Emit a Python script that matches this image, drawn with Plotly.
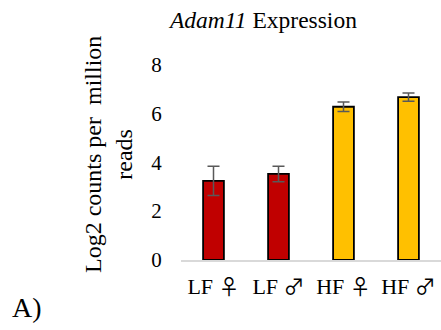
import plotly.graph_objects as go

SYM = "<span style='font-family:Noto Sans CJK JP;font-size:21px'>{}</span>"
categories = ["LF " + SYM.format("♀"), "LF " + SYM.format("♂"),
              "HF " + SYM.format("♀"), "HF " + SYM.format("♂")]
values = [3.24, 3.52, 6.27, 6.66]
errors = [0.60, 0.32, 0.19, 0.17]
colors = ["#C00000", "#C00000", "#FFC000", "#FFC000"]
y_ticks = [0, 2, 4, 6, 8]

W, H = 441, 330
ML, MR, MT, MB = 181, 0, 40, 70
pw = W - ML - MR
ph = H - MT - MB

FONT = "Liberation Serif"

fig = go.Figure(go.Bar(
    x=categories, y=values,
    marker=dict(color=colors, line=dict(color="#000000", width=1.8)),
    width=0.32,
    error_y=dict(type="data", array=errors, visible=True, color="#595959", thickness=1.5, width=6),
))

def px_x(x):
    return (x - ML) / pw

def px_y(y):
    return (H - MB - y) / ph

fig.update_layout(
    width=W, height=H,
    margin=dict(l=ML, r=MR, t=MT, b=MB),
    paper_bgcolor="white", plot_bgcolor="white",
    font=dict(family=FONT, size=22, color="#000000"),
    showlegend=False,
    xaxis=dict(showline=True, linecolor="#d9d9d9", linewidth=2, showgrid=False,
               ticks="outside", ticklen=6, tickcolor="rgba(0,0,0,0)",
               tickfont=dict(family=FONT, size=22, color="#000000"), zeroline=False),
    yaxis=dict(range=[0, 9], tickvals=y_ticks, showgrid=False, showline=False, zeroline=False,
               ticks="outside", ticklen=14, tickcolor="rgba(0,0,0,0)",
               tickfont=dict(family=FONT, size=21, color="#000000")),
    annotations=[
        dict(text="<i>Adam11</i> Expression", xref="paper", yref="paper",
             x=px_x(262), y=px_y(20), xanchor="center", yanchor="middle",
             showarrow=False, font=dict(family=FONT, size=23.5, color="#000000")),
        dict(text="Log2 counts per&nbsp; million<br>reads", xref="paper", yref="paper",
             x=px_x(108), y=px_y(155), xanchor="center", yanchor="middle",
             textangle=-90, showarrow=False, font=dict(family=FONT, size=24, color="#000000")),
        dict(text="A)", xref="paper", yref="paper",
             x=px_x(27), y=px_y(307), xanchor="center", yanchor="middle",
             showarrow=False, font=dict(family=FONT, size=28, color="#000000")),
    ],
)

fig.write_html("out.html")
